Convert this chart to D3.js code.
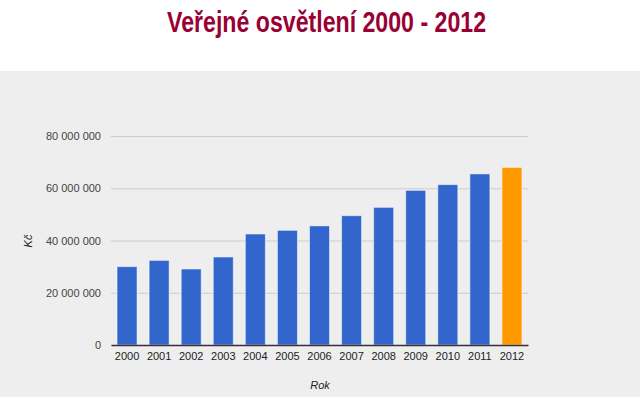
<!DOCTYPE html>
<html>
<head>
<meta charset="utf-8">
<script src="https://cdn.jsdelivr.net/npm/d3@7"></script>
<style>
  body { margin: 0; background: #fff; }
  #chart svg { display: block; }
</style>
</head>
<body>
<div id="chart"></div>
<script>
// Data
const years = ['2000', '2001', '2002', '2003', '2004', '2005', '2006', '2007', '2008', '2009', '2010', '2011', '2012']
const costs = [30000000, 32400000, 29100000, 33700000, 42500000, 43900000, 45600000, 49500000, 52700000, 59200000, 61400000, 65500000, 68000000]
const yTicks = [0, 20000000, 40000000, 60000000, 80000000]

let width = 640
let height = 397
let margin = {top: 136, right: 112, bottom: 52, left: 111}

let svg = d3.select('#chart')
            .append('svg')
            .attr('width', width)
            .attr('height', height)
            .style('font-family', 'Arial, "Liberation Sans", sans-serif')

// Gray panel under the title
svg.append('rect')
    .attr('x', 0)
    .attr('y', 71)
    .attr('width', width)
    .attr('height', height - 71)
    .attr('fill', '#eeeeee')

// Title
svg.append('text')
    .attr('x', 167)
    .attr('y', 32)
    .attr('textLength', 319)
    .attr('lengthAdjust', 'spacingAndGlyphs')
    .attr('font-size', 29)
    .attr('font-weight', 'bold')
    .attr('fill', '#990033')
    .text('Veřejné osvětlení 2000 - 2012')

let x = d3.scaleBand()
    .domain(years)
    .range([margin.left, width - margin.right])
    .paddingInner(0.375)
    .paddingOuter(0.1875)

let y = d3.scaleLinear()
    .domain([0, 80000000])
    .range([height - margin.bottom, margin.top])

let fmt = v => d3.format(',')(v).replace(/,/g, ' ')

// Grid lines + y labels
let yAxis = svg.append('g')
    .attr('transform', `translate(${margin.left},0)`)
    .call(d3.axisLeft(y).tickValues(yTicks).tickFormat(fmt).tickSize(-(width - margin.left - margin.right)).tickPadding(10))
yAxis.select('.domain').remove()
yAxis.selectAll('.tick line').attr('stroke', '#cccccc')
yAxis.selectAll('.tick text').attr('fill', '#444').attr('font-size', 11)

// Bars
svg.selectAll('.bar')
    .data(costs)
    .enter()
    .append('rect')
    .attr('class', 'bar')
    .attr('x', (d, i) => x(years[i]))
    .attr('y', d => y(d))
    .attr('width', x.bandwidth())
    .attr('height', d => y(0) - y(d))
    .attr('fill', (d, i) => i === years.length - 1 ? '#ff9900' : '#3366cc')
    .attr('stroke', 'rgba(255,255,255,0.55)')
    .attr('stroke-width', 1)

// Baseline + x labels
let xAxis = svg.append('g')
    .attr('transform', `translate(0,${y(0)})`)
    .call(d3.axisBottom(x).tickSize(0).tickPadding(7))
xAxis.select('.domain').attr('stroke', '#333').attr('stroke-width', 1.5)
xAxis.selectAll('.tick text').attr('fill', '#222').attr('font-size', 11)

// Axis titles
svg.append('text')
    .attr('transform', 'translate(32,241) rotate(-90)')
    .attr('text-anchor', 'middle')
    .attr('font-size', 11)
    .attr('font-style', 'italic')
    .attr('fill', '#222')
    .text('Kč')

svg.append('text')
    .attr('x', 320)
    .attr('y', 389)
    .attr('text-anchor', 'middle')
    .attr('font-size', 11)
    .attr('font-style', 'italic')
    .attr('fill', '#222')
    .text('Rok')
</script>
</body>
</html>
